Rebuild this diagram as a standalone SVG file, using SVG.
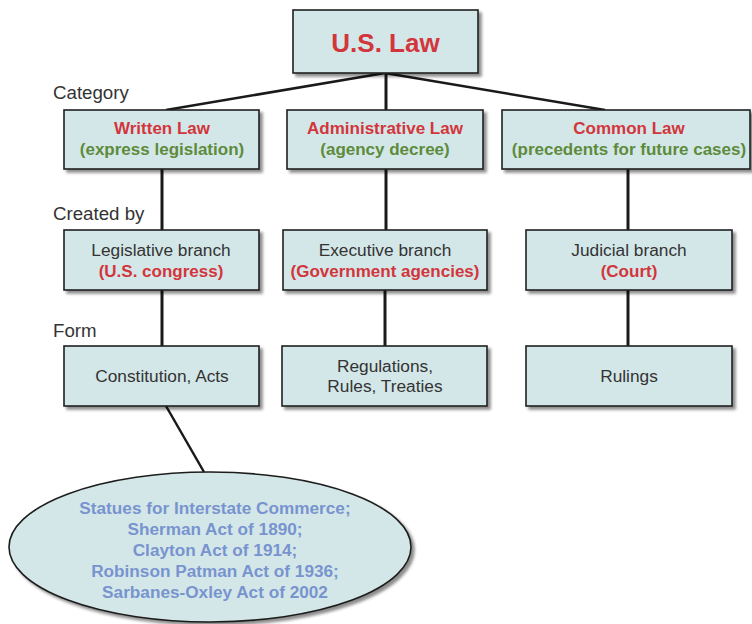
<svg xmlns="http://www.w3.org/2000/svg" width="752" height="624" viewBox="0 0 752 624">
  <defs>
    <filter id="shadow" x="-10%" y="-10%" width="125%" height="130%">
      <feGaussianBlur in="SourceAlpha" stdDeviation="1.5"/>
      <feOffset dx="3" dy="3" result="b"/>
      <feComponentTransfer><feFuncA type="linear" slope="0.45"/></feComponentTransfer>
      <feMerge><feMergeNode/><feMergeNode in="SourceGraphic"/></feMerge>
    </filter>
  </defs>
  <style>
    .box { fill: #d4e7e8; stroke: #1e1e1e; stroke-width: 1.6; filter: url(#shadow); }
    .t { font-family: "Liberation Sans", Arial, sans-serif; text-anchor: middle; font-size: 17.3px; fill: #333; }
    .red { fill: #d2363c; font-weight: bold; font-size: 17px; }
    .green { fill: #5d8b3c; font-weight: bold; font-size: 17px; }
    .blue { fill: #7894cf; font-weight: bold; font-size: 17.2px; }
    .lbl { font-family: "Liberation Sans", Arial, sans-serif; font-size: 18.7px; fill: #333; }
    .conn line { stroke: #1a1a1a; stroke-width: 3; stroke-linecap: butt; }
  </style>
  <rect width="752" height="624" fill="#ffffff"/>

  <!-- connectors -->
  <g id="connectors" class="conn">
    <line x1="385" y1="73" x2="166" y2="110" style="stroke-width:2.5"/>
    <line x1="385" y1="73" x2="605" y2="110" style="stroke-width:2.5"/>
    <line x1="386" y1="73" x2="386" y2="110"/>
    <line x1="162" y1="169" x2="162" y2="230"/>
    <line x1="386" y1="169" x2="386" y2="230"/>
    <line x1="628" y1="169" x2="628" y2="230"/>
    <line x1="162" y1="290" x2="162" y2="346"/>
    <line x1="385" y1="290" x2="385" y2="346"/>
    <line x1="628" y1="290" x2="628" y2="346"/>
    <line x1="166" y1="406" x2="204" y2="472" style="stroke-width:2.5"/>
  </g>

  <!-- row labels -->
  <text class="lbl" x="53" y="99">Category</text>
  <text class="lbl" x="53" y="220">Created by</text>
  <text class="lbl" x="53" y="337">Form</text>

  <g id="us-law">
    <rect class="box" x="293" y="10" width="185" height="63"/>
    <text class="t red" x="385.5" y="52" style="font-size:26px">U.S. Law</text>
  </g>

  <g id="written-law">
    <rect class="box" x="64" y="110" width="195" height="59"/>
    <text class="t red" x="162" y="134">Written Law</text>
    <text class="t green" x="162" y="155">(express legislation)</text>
  </g>
  <g id="administrative-law">
    <rect class="box" x="287" y="110" width="196" height="59"/>
    <text class="t red" x="385" y="134">Administrative Law</text>
    <text class="t green" x="385" y="155">(agency decree)</text>
  </g>
  <g id="common-law">
    <rect class="box" x="502" y="110" width="248" height="59"/>
    <text class="t red" x="629" y="134">Common Law</text>
    <text class="t green" x="629" y="155">(precedents for future cases)</text>
  </g>

  <g id="legislative">
    <rect class="box" x="64" y="230" width="195" height="60"/>
    <text class="t" x="161" y="256">Legislative branch</text>
    <text class="t red" x="161" y="277">(U.S. congress)</text>
  </g>
  <g id="executive">
    <rect class="box" x="283" y="230" width="204" height="60"/>
    <text class="t" x="385" y="256">Executive branch</text>
    <text class="t red" x="385" y="277">(Government agencies)</text>
  </g>
  <g id="judicial">
    <rect class="box" x="526" y="230" width="206" height="60"/>
    <text class="t" x="629" y="256">Judicial branch</text>
    <text class="t red" x="629" y="277">(Court)</text>
  </g>

  <g id="constitution">
    <rect class="box" x="64" y="346" width="195" height="60"/>
    <text class="t" x="162" y="382">Constitution, Acts</text>
  </g>
  <g id="regulations">
    <rect class="box" x="282" y="346" width="205" height="60"/>
    <text class="t" x="385" y="372">Regulations,</text>
    <text class="t" x="385" y="392">Rules, Treaties</text>
  </g>
  <g id="rulings">
    <rect class="box" x="526" y="346" width="206" height="60"/>
    <text class="t" x="629" y="382">Rulings</text>
  </g>

  <g id="statutes">
    <ellipse class="box" cx="210" cy="547" rx="201" ry="75"/>
    <text class="t blue" x="215" y="514">Statues for Interstate Commerce;</text>
    <text class="t blue" x="215" y="535">Sherman Act of 1890;</text>
    <text class="t blue" x="215" y="556">Clayton Act of 1914;</text>
    <text class="t blue" x="215" y="577">Robinson Patman Act of 1936;</text>
    <text class="t blue" x="215" y="598">Sarbanes-Oxley Act of 2002</text>
  </g>
</svg>
